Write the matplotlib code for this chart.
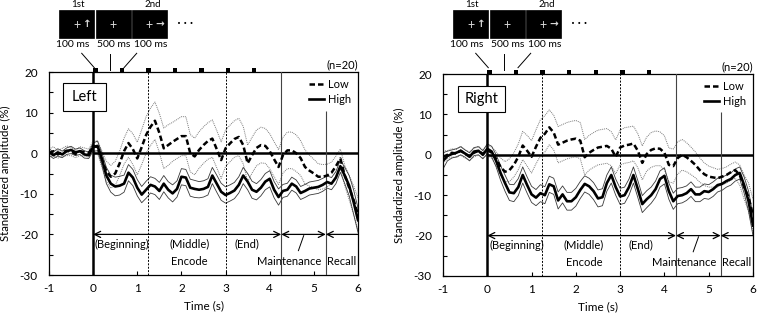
import numpy as np
import matplotlib
matplotlib.use("Agg")
import matplotlib.pyplot as plt
from matplotlib.patches import Rectangle

plt.rcParams['font.family'] = ['Lato', 'DejaVu Sans']
plt.rcParams['axes.unicode_minus'] = False

# ---------------- data ----------------
time_s = np.round(np.arange(-1.0, 6.0001, 0.1), 1)   # 71 samples, -1 .. 6 s

left_high = [0.3, -0.5, 0.2, -0.3, 0.5, 0.8, 0.2, 0.5, -0.3, -0.5,
             1.5, 1.8, -1.5, -5.5, -7.5, -8.2, -8.0, -7.5, -4.8, -6.0,
             -8.5, -10.2, -9.0, -7.8, -8.2, -9.3, -7.5, -9.0, -9.9, -8.8,
             -5.8, -6.0, -8.5, -8.8, -9.0, -8.8, -8.3, -5.5, -7.5, -9.5,
             -10.3, -9.8, -9.2, -7.8, -5.5, -7.0, -9.0, -9.5, -8.5, -7.0,
             -6.3, -9.0, -10.8, -9.3, -9.0, -7.5, -8.2, -9.8, -9.3, -8.7,
             -8.5, -8.3, -7.8, -7.1, -7.5, -6.0, -3.2, -5.5, -8.0, -12.0,
             -16.5]
left_high_se = [0.8, 0.8, 0.9, 0.8, 0.8, 0.9, 0.8, 0.8, 0.9, 0.8,
                1.0, 1.2, 1.5, 2.0, 2.1, 2.3, 2.3, 2.1, 2.0, 2.0,
                2.0, 2.0, 2.1, 2.0, 2.0, 2.1, 2.0, 2.0, 2.1, 2.0,
                2.0, 2.0, 2.1, 2.1, 2.0, 2.0, 2.0, 2.0, 2.1, 2.1,
                2.0, 2.0, 2.0, 2.0, 2.0, 2.0, 2.1, 2.0, 2.0, 2.0,
                2.0, 2.0, 2.0, 1.6, 1.6, 1.6, 1.6, 1.6, 1.6, 1.6,
                1.6, 1.6, 1.6, 1.5, 1.5, 1.5, 1.5, 2.0, 2.5, 3.0,
                3.0]
left_low = [0.0, 0.5, -0.3, 0.2, 0.6, 0.4, -0.2, 0.5, 0.3, 0.0,
            1.8, 1.5, -1.5, -4.5, -5.8, -5.0, -2.5, 0.5, 2.5, 1.0,
            -1.3, 1.5, 4.5, 6.5, 8.0, 5.0, 1.2, 2.0, 2.8, 3.5,
            4.2, 4.2, 0.0, -0.8, 0.8, 2.0, 3.0, 3.6, 1.0, -1.7,
            1.2, 2.4, 3.5, 4.0, 2.0, -2.5, -0.5, 1.3, 2.0, 1.8,
            0.5, -1.5, -3.4, -0.5, 0.7, 0.7, 0.0, -1.2, -3.4, -4.3,
            -5.0, -5.8, -5.8, -5.5, -4.8, -3.2, -1.3, -5.5, -8.5, -11.5,
            -15.0]
left_low_se = [1.0, 1.1, 0.9, 1.0, 1.2, 1.0, 0.9, 1.1, 1.0, 1.0,
               1.2, 1.5, 2.0, 2.5, 2.8, 3.0, 3.0, 3.2, 3.5, 3.8,
               4.0, 4.3, 4.5, 4.6, 4.6, 4.8, 5.0, 5.0, 4.8, 4.8,
               4.8, 4.8, 4.6, 4.5, 4.5, 4.5, 4.5, 4.6, 4.6, 4.5,
               4.5, 4.5, 4.5, 4.6, 4.6, 4.5, 4.4, 4.4, 4.4, 4.3,
               4.3, 4.3, 4.3, 4.4, 4.5, 4.5, 4.5, 4.3, 4.2, 3.8,
               3.5, 3.2, 3.0, 2.8, 2.6, 2.5, 2.3, 2.5, 3.0, 3.5,
               4.0]

right_high = [-1.5, -0.3, 0.2, 0.5, 1.0, 0.3, -0.5, 0.8, 1.0, 0.0,
              1.5, 0.8, -1.5, -4.5, -7.0, -9.3, -9.5, -8.0, -5.0, -7.5,
              -9.8, -10.6, -9.5, -10.0, -7.3, -7.8, -11.3, -9.8, -11.5, -11.5,
              -10.5, -8.7, -7.2, -7.8, -9.0, -10.8, -10.5, -7.0, -5.0, -8.0,
              -10.3, -10.0, -8.0, -5.0, -8.5, -12.2, -11.0, -10.0, -8.5, -6.0,
              -5.2, -9.0, -11.5, -10.2, -10.0, -9.5, -8.5, -9.8, -9.8, -9.0,
              -9.2, -8.5, -7.5, -7.2, -6.5, -6.0, -5.0, -4.5, -7.5, -11.5,
              -17.5]
right_high_se = [2.0, 1.2, 1.0, 1.0, 1.0, 0.9, 1.0, 1.0, 1.0, 1.0,
                 1.2, 1.3, 1.5, 1.8, 2.0, 2.0, 2.1, 2.1, 2.0, 2.0,
                 2.0, 2.0, 2.1, 2.1, 2.0, 2.0, 2.1, 2.1, 2.2, 2.2,
                 2.2, 2.1, 2.0, 2.0, 2.1, 2.1, 2.1, 2.0, 2.0, 2.0,
                 2.0, 2.0, 2.0, 2.0, 2.1, 2.1, 2.1, 2.0, 2.0, 2.0,
                 2.0, 2.0, 2.0, 1.9, 1.9, 1.8, 1.8, 1.8, 1.8, 1.8,
                 1.8, 1.8, 1.7, 1.6, 1.5, 1.5, 1.5, 1.5, 2.0, 2.5,
                 2.5]
right_low = [-0.5, 0.0, 0.5, 0.3, 1.0, 0.2, -0.3, 0.5, 1.0, 0.2,
             1.2, 0.5, -1.0, -3.0, -4.2, -3.8, -2.5, -0.5, 2.3, 1.0,
             -0.5, 2.0, 4.2, 5.2, 6.8, 5.5, 2.5, 3.0, 3.5, 3.8,
             4.0, 3.5, -0.6, 0.5, 1.2, 1.8, 2.0, 2.2, 1.5, -0.5,
             1.8, 2.3, 2.5, 2.8, 1.0, -2.0, 0.2, 1.2, 1.6, 1.5,
             0.5, -2.5, -2.8, -0.8, 0.0, -0.6, -1.5, -2.5, -3.8, -4.8,
             -5.4, -5.6, -5.8, -5.4, -5.0, -4.3, -3.8, -5.0, -8.0, -10.5,
             -15.0]
right_low_se = [1.5, 1.0, 1.0, 1.0, 1.1, 1.0, 1.0, 1.0, 1.1, 1.0,
                1.2, 1.4, 1.8, 2.2, 2.5, 2.8, 3.0, 3.2, 3.5, 3.8,
                4.0, 4.2, 4.5, 4.5, 4.3, 4.3, 4.5, 4.5, 4.5, 4.5,
                4.5, 4.5, 4.4, 4.3, 4.3, 4.3, 4.3, 4.3, 4.2, 4.2,
                4.3, 4.4, 4.4, 4.3, 4.2, 4.2, 4.2, 4.3, 4.3, 4.2,
                4.2, 4.2, 4.2, 4.0, 3.8, 3.6, 3.4, 3.2, 3.0, 2.8,
                2.6, 2.4, 2.2, 2.0, 2.0, 2.0, 2.0, 2.5, 3.0, 3.5,
                4.0]

stim_onsets = [0.0, 0.6, 1.2, 1.8, 2.4, 3.0, 3.6]
phase_bounds_dashed = [1.24, 3.0]
maint_start = 4.26
recall_start = 5.27
x_ticks = [-1, 0, 1, 2, 3, 4, 5, 6]
y_ticks = [-30, -20, -10, 0, 10, 20]
y_minor = [-25, -15, -5, 5, 15]

W, H = 757, 318
fig = plt.figure(figsize=(W / 100, H / 100), dpi=100)
ax_l = fig.add_axes([49 / W, 1 - 275 / H, 309 / W, 203 / H])
ax_r = fig.add_axes([443 / W, 1 - 276 / H, 310 / W, 202 / H])
ov = fig.add_axes([0, 0, 1, 1])
ov.set_xlim(0, W)
ov.set_ylim(H, 0)
ov.axis('off')


def panel(ax, hi, hi_se, lo, lo_se, name, box):
    hi = np.asarray(hi); hi_se = np.asarray(hi_se)
    lo = np.asarray(lo); lo_se = np.asarray(lo_se)
    band_lo = dict(color='#7a7a7a', lw=0.7, ls=(0, (1, 1)), zorder=2)
    band_hi = dict(color='#3a3a3a', lw=0.6, zorder=2)
    ax.plot(time_s, lo + lo_se, **band_lo)
    ax.plot(time_s, lo - lo_se, **band_lo)
    ax.plot(time_s, hi + hi_se, **band_hi)
    ax.plot(time_s, hi - hi_se, **band_hi)
    l_low, = ax.plot(time_s, lo, color='black', lw=1.8, ls=(0, (2.2, 1.2)),
                     zorder=4, label='Low')
    l_high, = ax.plot(time_s, hi, color='black', lw=1.9, zorder=4, label='High')

    ax.axvline(0, color='black', lw=1.8, zorder=3)
    ax.hlines(0, 0, 6, color='black', lw=1.8, zorder=3)
    for xb in phase_bounds_dashed:
        ax.axvline(xb, color='black', lw=0.7, ls=(0, (2, 1.5)), zorder=3)
    ax.axvline(maint_start, color='#444444', lw=0.8, zorder=3)
    ax.vlines(recall_start, -30, 10.5, color='#444444', lw=0.8, zorder=3)

    ap = dict(lw=0.9, color='black', shrinkA=0, shrinkB=0, mutation_scale=11)
    ax.annotate('', xy=(0, -20), xytext=(maint_start, -20),
                arrowprops=dict(arrowstyle='<->', **ap))
    ax.annotate('', xy=(maint_start, -20), xytext=(recall_start, -20),
                arrowprops=dict(arrowstyle='<->', **ap))
    ax.annotate('', xy=(recall_start, -20), xytext=(6, -20),
                arrowprops=dict(arrowstyle='->', **ap))

    fs = 8
    ax.text(0.66, -22.4, '(Beginning)', ha='center', va='center', fontsize=fs)
    ax.text(2.18, -22.4, '(Middle)', ha='center', va='center', fontsize=fs)
    ax.text(3.48, -22.4, '(End)', ha='center', va='center', fontsize=fs)
    ax.text(2.18, -26.6, 'Encode', ha='center', va='center', fontsize=fs)
    ax.text(4.44, -26.6, 'Maintenance', ha='center', va='center', fontsize=fs)
    ax.text(5.64, -26.6, 'Recall', ha='center', va='center', fontsize=fs)
    ax.plot([4.65, 4.77], [-24.0, -20.3], color='black', lw=0.7)

    x0, x1, y0, y1 = box
    ax.add_patch(Rectangle((x0, y0), x1 - x0, y1 - y0, fc='white', ec='black',
                           lw=0.8, zorder=6))
    ax.text((x0 + x1) / 2, (y0 + y1) / 2, name, ha='center', va='center',
            fontsize=10.5, zorder=7)

    ax.bar(stim_onsets, 1.1, width=0.1, bottom=19.9, align='edge',
           color='black', clip_on=False, zorder=6)

    leg = ax.legend(handles=[l_low, l_high], loc='upper right', frameon=False,
                    fontsize=8, handlelength=1.3, handletextpad=0.4,
                    labelspacing=0.4, borderaxespad=0.2)
    leg.set_zorder(8)

    ax.text(1.0, 1.035, '(n=20)', transform=ax.transAxes, ha='right',
            va='center', fontsize=8)

    ax.set_xlim(-1, 6)
    ax.set_ylim(-30, 20)
    ax.set_xticks(x_ticks)
    ax.set_yticks(y_ticks)
    ax.set_yticks(y_minor, minor=True)
    ax.tick_params(axis='both', which='both', direction='in', length=3,
                   width=0.8, labelsize=8.5)
    ax.tick_params(axis='y', pad=8)
    ax.tick_params(axis='x', pad=6)
    for sp in ax.spines.values():
        sp.set_linewidth(0.9)
    ax.set_xlabel('Time (s)', fontsize=8.5, labelpad=4)
    ax.set_ylabel('Standardized amplitude (%)', fontsize=8.2)
    ax.yaxis.set_label_coords(-0.122, 0.5)


def stimulus(dx):
    for (x, w) in [(58.7, 35.6), (95.7, 35.0), (132.3, 35.0)]:
        ov.add_patch(Rectangle((x + dx, 10), w, 28.3, fc='black', ec='black', lw=0.5))
    col = '#d8d8d8'
    for x in [77.3, 113.3, 149.3]:
        ov.text(x + dx, 24.5, '+', color=col, ha='center', va='center', fontsize=9)
    ov.text(87.3 + dx, 24, '\u2191', color=col, ha='center', va='center',
            fontsize=7.5, fontweight='bold', family='DejaVu Sans')
    ov.text(159.3 + dx, 24.5, '\u2192', color=col, ha='center', va='center',
            fontsize=7.5, fontweight='bold', family='DejaVu Sans')
    ov.text(78.3 + dx, 4.5, '1st', ha='center', va='center', fontsize=7)
    ov.text(153.3 + dx, 4.5, '2nd', ha='center', va='center', fontsize=7)
    ov.text(72.7 + dx, 44.5, '100 ms', ha='center', va='center', fontsize=7.5)
    ov.text(114.0 + dx, 44.5, '500 ms', ha='center', va='center', fontsize=7.5)
    ov.text(150.7 + dx, 44.5, '100 ms', ha='center', va='center', fontsize=7.5)
    ov.text(185.0 + dx, 24.5, '\u2022 \u2022 \u2022', ha='center', va='center',
            fontsize=5, family='DejaVu Sans')
    ov.plot([81.7 + dx, 94.3 + dx], [53.3, 67.7], color='black', lw=0.7)
    ov.plot([110 + dx, 110 + dx], [54.3, 70.0], color='black', lw=0.7)
    ov.plot([136.7 + dx, 124 + dx], [53.3, 67.7], color='black', lw=0.7)


panel(ax_l, left_high, left_high_se, left_low, left_low_se, 'Left',
      (-0.68, 0.29, 10.3, 17.2))
panel(ax_r, right_high, right_high_se, right_low, right_low_se, 'Right',
      (-0.66, 0.40, 10.5, 17.0))
stimulus(0)
stimulus(394)

fig.savefig('out.png', dpi=100)
